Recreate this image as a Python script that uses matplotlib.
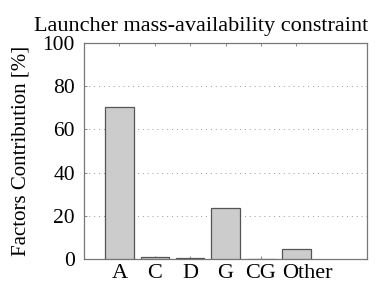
import numpy as np
import matplotlib.pyplot as plt
import matplotlib.transforms as mtransforms

plt.rcParams['font.family'] = ['Liberation Serif', 'DejaVu Serif']

categories = ["A", "C", "D", "G", "CG", "Other"]
contribution = [70.5, 0.7, 0.4, 23.5, 0.2, 4.6]

fig = plt.figure(figsize=(3.75, 2.89), dpi=100)
ax = fig.add_axes([0.224, 0.104, 0.755, 0.747])

x = np.arange(1, len(categories) + 1)
ax.bar(x, contribution, width=0.8, color="#cccccc", edgecolor="#555555", linewidth=0.9, zorder=3)

ax.set_xlim(0, 8)
ax.set_ylim(0, 100)
ax.set_xticks(x)
ax.set_xticklabels(categories)
ax.set_yticks([0, 20, 40, 60, 80, 100])
ax.yaxis.grid(True, linestyle=(0, (1, 4)), color="#999999", linewidth=0.7, zorder=0)
ax.tick_params(direction="in", length=2.5, width=0.6, color="#777777",
               top=True, right=False)
ax.tick_params(axis="x", labelsize=16, pad=4)
ax.tick_params(axis="y", labelsize=15.5, pad=6.5)
for s in ax.spines.values():
    s.set_color("#777777")
    s.set_linewidth(0.9)

# last label sits a bit right of its tick in the original
lbl = ax.get_xticklabels()[-1]
lbl.set_transform(lbl.get_transform() + mtransforms.ScaledTranslation(8 / 72, 0, fig.dpi_scale_trans))

ax.set_ylabel("Factors Contribution [%]", fontsize=15, labelpad=9)
ax.set_title("Launcher mass-availability constraint", fontsize=16, pad=9, x=0.413)

fig.savefig("out.png", dpi=100)
